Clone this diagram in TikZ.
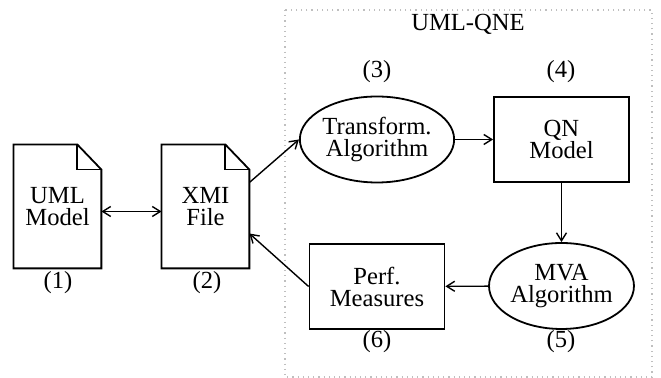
\documentclass[tikz,border=0pt]{standalone}
\usepackage{fontspec}
\setmainfont{Liberation Serif}
\usetikzlibrary{shapes.geometric,arrows.meta}

\begin{document}
\begin{tikzpicture}[x=0.5pt,y=-0.5pt,
    font=\fontsize{12.3}{11}\selectfont,
    >={Straight Barb[length=4pt,width=5pt]},
    doc/.style={minimum width=43.5pt, minimum height=61.5pt, inner sep=0pt, align=center},
    ell/.style={ellipse, draw, line width=0.9pt, minimum width=68pt, minimum height=43pt, inner sep=0pt, align=center},
    box/.style={rectangle, draw, line width=0.9pt, minimum width=67.5pt, minimum height=42.5pt, inner sep=0pt, align=center},
    link/.style={->, line width=0.7pt}]
  \useasboundingbox (0,0) rectangle (661,378);
  \draw[gray!50, dotted, line width=0.6pt] (285,10) rectangle (652,377);
  \node (qne) at (468,24) {UML-QNE};
  % documents
  \node[doc] (d1) at (57.5,206.5) {UML\\Model};
  \node[doc] (d2) at (205.5,206.5) {XMI\\File};
  \foreach \d in {d1,d2} {
    \draw[line width=0.9pt] (\d.north west) -- ([xshift=-12pt]\d.north east)
      -- ([yshift=-12.5pt]\d.north east) -- (\d.south east) -- (\d.south west) -- cycle;
    \draw[line width=0.9pt] ([xshift=-12pt]\d.north east) -- ([xshift=-12pt,yshift=-12.5pt]\d.north east)
      -- ([yshift=-12.5pt]\d.north east);
  }
  \node (n1) at (58,283) {(1)};
  \node (n2) at (207,283) {(2)};
  % tool steps
  \node[ell] (e3) at (377,139.5) {Transform.\\Algorithm};
  \node[box] (b4) at (561.5,139.5) {QN\\Model};
  \node[ell] (e5) at (561.5,286) {MVA\\Algorithm};
  \node[box] (b6) at (377,286.5) {Perf.\\Measures};
  \node (n3) at (377,72) {(3)};
  \node (n4) at (561,72) {(4)};
  \node (n5) at (561,342) {(5)};
  \node (n6) at (377,342) {(6)};
  % connectors
  \draw[link, <->] ([yshift=-2.5pt]d1.east) -- ([yshift=-2.5pt]d2.east -| d2.west);
  \draw[link] ([yshift=12pt]d2.east) -- (e3.west);
  \draw[link] (e3) -- (b4);
  \draw[link] (b4) -- (e5);
  \draw[link] (e5) -- (b6);
  \draw[link] (b6.west) -- ([yshift=-13.5pt]d2.east);
\end{tikzpicture}
\end{document}
